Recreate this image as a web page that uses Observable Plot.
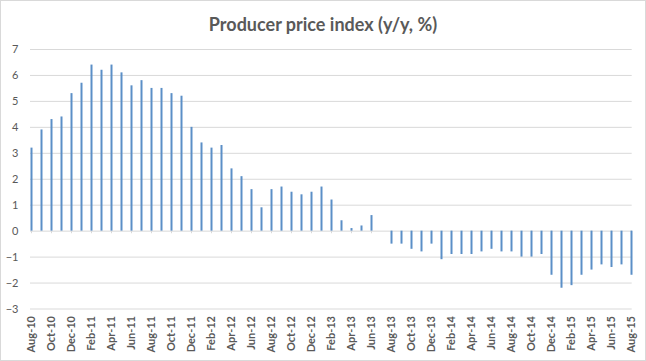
<!DOCTYPE html>
<html>
<head>
<meta charset="utf-8">
<script src="https://cdn.jsdelivr.net/npm/d3@7"></script>
<script src="https://cdn.jsdelivr.net/npm/@observablehq/plot@0.6"></script>
<style>
  html, body { margin: 0; padding: 0; background: #fff; }
  #wrap { width: 646px; height: 361px; box-sizing: border-box; border: 1px solid #d9d9d9; background: #fff; overflow: hidden; }
  #title { height: 39px; box-sizing: border-box; padding-top: 14px; line-height: 18px; text-align: center;
           font-family: Lato, sans-serif; font-weight: 700; font-size: 18px; color: #595959; }
  #chart svg { display: block; }
</style>
</head>
<body>
<div id="wrap">
  <div id="title">Producer price index (y/y, %)</div>
  <div id="chart"></div>
</div>
<script>
const months = [
  "Aug-10","Sep-10","Oct-10","Nov-10","Dec-10",
  "Jan-11","Feb-11","Mar-11","Apr-11","May-11","Jun-11","Jul-11","Aug-11","Sep-11","Oct-11","Nov-11","Dec-11",
  "Jan-12","Feb-12","Mar-12","Apr-12","May-12","Jun-12","Jul-12","Aug-12","Sep-12","Oct-12","Nov-12","Dec-12",
  "Jan-13","Feb-13","Mar-13","Apr-13","May-13","Jun-13","Jul-13","Aug-13","Sep-13","Oct-13","Nov-13","Dec-13",
  "Jan-14","Feb-14","Mar-14","Apr-14","May-14","Jun-14","Jul-14","Aug-14","Sep-14","Oct-14","Nov-14","Dec-14",
  "Jan-15","Feb-15","Mar-15","Apr-15","May-15","Jun-15","Jul-15","Aug-15"
];
const values = [
  3.2, 3.9, 4.3, 4.4, 5.3,
  5.7, 6.4, 6.2, 6.4, 6.1, 5.6, 5.8, 5.5, 5.5, 5.3, 5.2, 4.0,
  3.4, 3.2, 3.3, 2.4, 2.1, 1.6, 0.9, 1.6, 1.7, 1.5, 1.4, 1.5,
  1.7, 1.2, 0.4, 0.1, 0.2, 0.6, 0.0, -0.5, -0.5, -0.7, -0.8, -0.5,
  -1.1, -0.9, -0.9, -0.9, -0.8, -0.7, -0.8, -0.8, -1.0, -1.0, -0.9, -1.7,
  -2.2, -2.1, -1.7, -1.5, -1.3, -1.4, -1.3, -1.7
];
const yTicks = [-3, -2, -1, 0, 1, 2, 3, 4, 5, 6, 7];
const xTickLabels = months.filter((m, i) => i % 2 === 0);

const data = months.map((m, i) => ({month: m, value: values[i]}));
const barColor = "#5b8fc7";
const gridColor = "#d9d9d9";

const chart = Plot.plot({
  width: 644,
  height: 320,
  marginTop: 9,
  marginBottom: 51.5,
  marginLeft: 30,
  marginRight: 13.3,
  style: {fontFamily: "Lato, sans-serif", fontSize: "11px", color: "#595959", background: "#fff"},
  x: {type: "point", domain: months, padding: 0, axis: null, label: null},
  y: {domain: [-3, 7], axis: null, label: null},
  marks: [
    Plot.ruleY(yTicks, {stroke: gridColor, strokeWidth: 1, insetLeft: -1}),
    Plot.ruleX(xTickLabels, {x: d => d, y1: 0, y2: -0.1, stroke: gridColor}),
    Plot.ruleX(data, {x: "month", y1: 0, y2: "value", stroke: barColor, strokeWidth: 2}),
    Plot.axisY(yTicks, {tickSize: 0, tickPadding: 13, fill: "#595959", fontSize: 11, label: null}),
    Plot.axisX(xTickLabels, {anchor: "bottom", tickSize: 0, tickPadding: 7, tickRotate: -90,
      fill: "#595959", fontWeight: "bold", fontSize: 11, label: null})
  ]
});
document.getElementById("chart").appendChild(chart);
</script>
</body>
</html>
